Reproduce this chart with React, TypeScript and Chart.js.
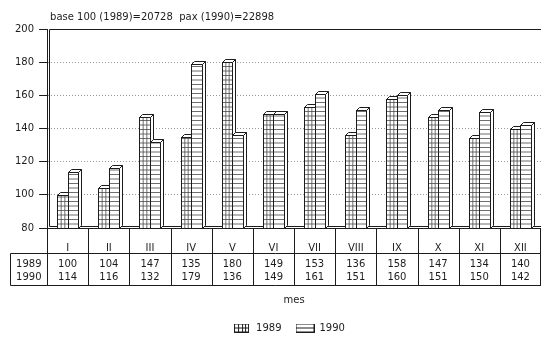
import React, { useEffect, useRef } from "react";
import { Chart, registerables } from "chart.js";

Chart.register(...registerables);

// Monthly passenger index (base 100 = 1989 monthly average)
const months = ["I", "II", "III", "IV", "V", "VI", "VII", "VIII", "IX", "X", "XI", "XII"];
const values1989 = [100, 104, 147, 135, 180, 149, 153, 136, 158, 147, 134, 140];
const values1990 = [114, 116, 132, 179, 136, 149, 161, 151, 160, 151, 150, 142];
const seriesLabels = ["1989", "1990"];
const yMin = 80;
const yMax = 200;
const yStep = 20;
const headline = "base 100 (1989)=20728  pax (1990)=22898";
const axisTitle = "mes";

const FONT_FAMILY = '"DejaVu Sans", sans-serif';
const INK = "#1c1c1c";
const HATCH = "#4a4a4a";
const DEPTH = 3;
const HATCH_GAP = 4.5;
const LEGEND_SHIFT = 26;

// Small swatches used by the legend (grid for 1989, stripes for 1990)
function makeSwatch(kind: number): HTMLCanvasElement {
  const w = kind === 0 ? 15 : 19;
  const h = 9;
  const c = document.createElement("canvas");
  c.width = w;
  c.height = h;
  const g = c.getContext("2d")!;
  g.fillStyle = "#fff";
  g.fillRect(0, 0, w, h);
  g.strokeStyle = INK;
  g.lineWidth = 1;
  g.beginPath();
  g.moveTo(0.5, 4.5);
  g.lineTo(w - 0.5, 4.5);
  if (kind === 0) {
    for (let k = 1; k < 4; k++) {
      const x = Math.round((w * k) / 4) + 0.5;
      g.moveTo(x, 0);
      g.lineTo(x, h);
    }
  }
  g.stroke();
  g.strokeRect(0.5, 0.5, w - 1, h - 1);
  return c;
}

function poly(ctx: CanvasRenderingContext2D, pts: number[][]) {
  ctx.beginPath();
  ctx.moveTo(pts[0][0], pts[0][1]);
  for (let i = 1; i < pts.length; i++) ctx.lineTo(pts[i][0], pts[i][1]);
  ctx.closePath();
  ctx.fill();
  ctx.stroke();
}

function drawBox(
  ctx: CanvasRenderingContext2D,
  left: number,
  right: number,
  top: number,
  base: number,
  kind: number
) {
  const l = Math.round(left) + 0.5;
  const r = Math.round(right) + 0.5;
  const t = Math.round(top) + 0.5;
  const b = Math.round(base) + 0.5;
  ctx.save();
  // front face
  ctx.fillStyle = "#fff";
  ctx.fillRect(l, t, r - l, b - t);
  ctx.save();
  ctx.beginPath();
  ctx.rect(l, t, r - l, b - t);
  ctx.clip();
  ctx.strokeStyle = HATCH;
  ctx.lineWidth = 0.8;
  ctx.beginPath();
  for (let y = b - HATCH_GAP; y > t; y -= HATCH_GAP) {
    ctx.moveTo(l, y);
    ctx.lineTo(r, y);
  }
  if (kind === 0) {
    for (let k = 1; k < 3; k++) {
      const x = l + ((r - l) * k) / 3;
      ctx.moveTo(x, t);
      ctx.lineTo(x, b);
    }
  }
  ctx.stroke();
  ctx.restore();
  ctx.strokeStyle = INK;
  ctx.lineWidth = 1;
  ctx.strokeRect(l, t, r - l, b - t);
  // side face
  ctx.fillStyle = "#fff";
  poly(ctx, [
    [r, b],
    [r + DEPTH, b - DEPTH],
    [r + DEPTH, t - DEPTH],
    [r, t],
  ]);
  // top face
  poly(ctx, [
    [l, t],
    [l + DEPTH, t - DEPTH],
    [r + DEPTH, t - DEPTH],
    [r, t],
  ]);
  ctx.restore();
}

const boxBars = {
  id: "boxBars",
  afterLayout(chart: any) {
    // keep the legend centred under the plot rather than the whole canvas
    if (chart.legend) chart.legend.left += LEGEND_SHIFT;
  },
  beforeDatasetsDraw(chart: any) {
    const { ctx, chartArea } = chart;
    ctx.save();
    ctx.strokeStyle = INK;
    ctx.lineWidth = 1;
    // frame: top edge, back wall, floor back edge and front edge
    const top = Math.round(chartArea.top) + 0.5;
    const bottom = Math.round(chartArea.bottom) + 0.5;
    const left = Math.round(chartArea.left) + 0.5;
    ctx.beginPath();
    ctx.moveTo(left + 2, top);
    ctx.lineTo(chartArea.right, top);
    ctx.moveTo(left + 2, top);
    ctx.lineTo(left + 2, bottom - 2);
    ctx.moveTo(left + 2, bottom - 2);
    ctx.lineTo(chartArea.right, bottom - 2);
    ctx.moveTo(left, bottom);
    ctx.lineTo(chartArea.right, bottom);
    ctx.stroke();
    ctx.restore();
  },
  afterDatasetsDraw(chart: any) {
    const { ctx, chartArea } = chart;
    const metas = chart.data.datasets.map((_: any, i: number) => chart.getDatasetMeta(i));
    for (let i = 0; i < months.length; i++) {
      metas.forEach((meta: any, kind: number) => {
        const el = meta.data[i];
        if (!el) return;
        const { x, y, base, width } = el.getProps(["x", "y", "base", "width"], true);
        const floor = Math.min(base, chartArea.bottom);
        drawBox(ctx, x - width / 2, x + width / 2, y, floor, kind);
      });
    }
  },
  afterDraw(chart: any) {
    const { ctx, chartArea, scales } = chart;
    const xs = scales.x;
    const step = xs.getPixelForValue(1) - xs.getPixelForValue(0);
    const rowTop = Math.round(chartArea.bottom) + 0.5;
    const midLine = rowTop + 25;
    const bottom = rowTop + 57;
    const tableLeft = 10.5;
    ctx.save();
    ctx.strokeStyle = INK;
    ctx.lineWidth = 1;
    ctx.beginPath();
    for (let i = 0; i <= months.length; i++) {
      let x = Math.round(xs.getPixelForValue(i) - step / 2) + 0.5;
      if (x > chart.width) x = chart.width - 0.5;
      ctx.moveTo(x, rowTop);
      ctx.lineTo(x, bottom);
    }
    ctx.moveTo(tableLeft, midLine);
    ctx.lineTo(chartArea.right, midLine);
    ctx.moveTo(tableLeft, bottom);
    ctx.lineTo(chartArea.right, bottom);
    ctx.moveTo(tableLeft, midLine);
    ctx.lineTo(tableLeft, bottom);
    ctx.stroke();

    ctx.fillStyle = INK;
    ctx.font = `10px ${FONT_FAMILY}`;
    ctx.textAlign = "center";
    ctx.textBaseline = "middle";
    const rows = [values1989, values1990];
    const rowY = [rowTop + 36, rowTop + 49];
    const yearX = (tableLeft + chartArea.left) / 2;
    rows.forEach((vals, r) => {
      ctx.fillText(seriesLabels[r], yearX, rowY[r]);
      vals.forEach((v, i) => ctx.fillText(String(v), xs.getPixelForValue(i), rowY[r]));
    });

    // headline above the plot
    ctx.textAlign = "left";
    ctx.fillText(headline, chartArea.left + 3, 17);
    ctx.restore();
  },
};

export default function App() {
  const ref = useRef<HTMLCanvasElement>(null);

  useEffect(() => {
    const canvas = ref.current!;
    const swatches = [makeSwatch(0), makeSwatch(1)];
    const chart = new Chart(canvas, {
      type: "bar",
      data: {
        labels: months,
        datasets: [values1989, values1990].map((vals, i) => ({
          label: seriesLabels[i],
          data: vals,
          backgroundColor: "rgba(0,0,0,0)",
          borderWidth: 0,
          pointStyle: swatches[i],
          categoryPercentage: 0.51,
          barPercentage: 1,
        })),
      },
      options: {
        responsive: false,
        animation: false,
        devicePixelRatio: 1,
        layout: { padding: { left: 10, right: 0, top: 29, bottom: 0 } },
        plugins: {
          tooltip: { enabled: false },
          title: { display: false },
          legend: {
            position: "bottom",
            maxHeight: 30,
            labels: {
              usePointStyle: true,
              pointStyleWidth: 19,
              padding: 14,
              color: INK,
              font: { family: FONT_FAMILY, size: 10 },
            },
          },
        },
        scales: {
          x: {
            grid: { display: false },
            border: { display: false },
            ticks: {
              color: INK,
              padding: 6,
              maxRotation: 0,
              autoSkip: false,
              font: { family: FONT_FAMILY, size: 10 },
            },
            title: {
              display: true,
              text: axisTitle,
              color: INK,
              padding: { top: 0, bottom: 3 },
              font: { family: FONT_FAMILY, size: 10 },
            },
            afterFit(scale: any) {
              scale.height = 81;
            },
          },
          y: {
            min: yMin,
            max: yMax,
            ticks: {
              stepSize: yStep,
              padding: 5,
              color: INK,
              font: { family: FONT_FAMILY, size: 10 },
            },
            grid: {
              color: (c: any) =>
                c.tick && (c.tick.value === yMin || c.tick.value === yMax)
                  ? "rgba(0,0,0,0)"
                  : "#9a9a9a",
              tickColor: INK,
              tickLength: 8,
              tickBorderDash: [],
            },
            border: { display: true, color: INK, width: 1, dash: [1, 2] },
          },
        },
      },
      plugins: [boxBars],
    } as any);
    return () => chart.destroy();
  }, []);

  return (
    <div style={{ position: "fixed", left: 0, top: 0, width: 541, height: 339, background: "#fff" }}>
      <canvas ref={ref} width={541} height={339} style={{ display: "block" }} />
    </div>
  );
}
